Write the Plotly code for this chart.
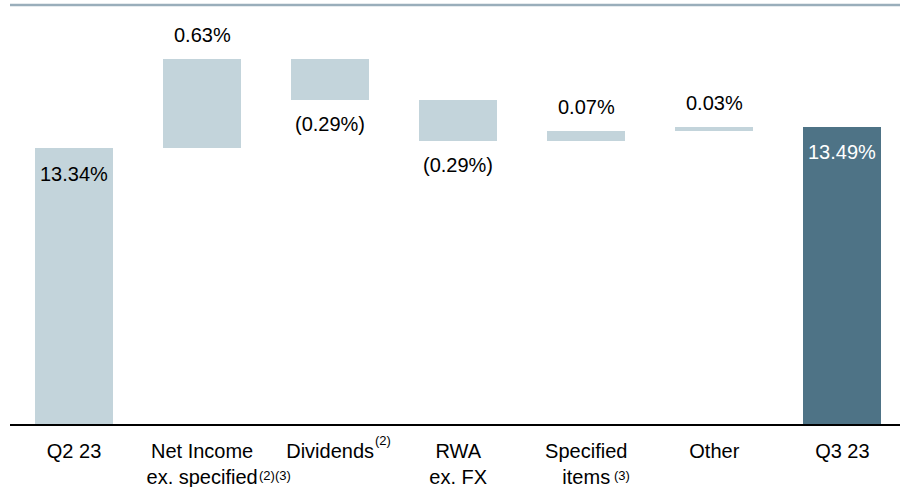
import plotly.graph_objects as go

categories = ["Q2 23", "Net Income ex. specified", "Dividends", "RWA ex. FX",
              "Specified items", "Other", "Q3 23"]
tick_labels = ["Q2 23", "Net Income<br>ex. specified", "Dividends", "RWA<br>ex. FX",
               "Specified<br>items", "Other", "Q3 23"]
values = [13.34, 0.63, -0.29, -0.29, 0.07, 0.03, 13.49]
measures = ["absolute", "relative", "relative", "relative", "relative", "relative", "total"]
footnotes = [None, "(2)(3)", "(2)", None, "(3)", None, None]

LIGHT = "#C3D4DB"
DARK = "#4E7386"
FONT = "Liberation Sans, Arial, sans-serif"

# bar bases from the running total
bases, heights, colors = [], [], []
running = 0.0
for v, m in zip(values, measures):
    if m == "relative":
        bases.append(running)
        heights.append(v)
        running += v
        colors.append(LIGHT)
    else:
        bases.append(0)
        heights.append(v)
        running = v
        colors.append(DARK if m == "total" else LIGHT)

xs = list(range(len(categories)))

fig = go.Figure()
fig.add_trace(go.Bar(
    x=xs, y=heights, base=bases, width=0.61,
    marker=dict(color=colors, line=dict(width=0)),
    hoverinfo="skip", showlegend=False,
))

def fmt(v):
    return f"({abs(v):.2f}%)" if v < 0 else f"{v:.2f}%"

annotations = []
for i, (v, m, b) in enumerate(zip(values, measures, bases)):
    top = b + v
    if m == "absolute":
        annotations.append(dict(x=i, y=top, text=fmt(v), yshift=-26, showarrow=False,
                                font=dict(size=20, color="#000000", family=FONT)))
    elif m == "total":
        annotations.append(dict(x=i, y=top, text=fmt(v), yshift=-25, showarrow=False,
                                font=dict(size=20, color="#FFFFFF", family=FONT)))
    elif v >= 0:
        annotations.append(dict(x=i, y=top, text=fmt(v), yshift=24, showarrow=False,
                                font=dict(size=20, color="#000000", family=FONT)))
    else:
        annotations.append(dict(x=i, y=top, text=fmt(v), yshift=-24, showarrow=False,
                                font=dict(size=20, color="#000000", family=FONT)))

# footnote marks hanging after the category labels
foot_pos = {1: (55, -51), 2: (43, -16), 4: (26, -51)}
for i, fn in enumerate(footnotes):
    if fn:
        dx, dy = foot_pos[i]
        annotations.append(dict(x=i, y=0, xref="x", yref="paper", text=fn,
                                xanchor="left", yanchor="middle", xshift=dx, yshift=dy,
                                showarrow=False,
                                font=dict(size=13, color="#000000", family=FONT)))

ymin = 11.383
ymax = ymin + 419 / 141.0

fig.update_layout(
    width=900, height=487,
    margin=dict(l=10, r=0, t=5, b=63),
    paper_bgcolor="white", plot_bgcolor="white",
    bargap=0,
    xaxis=dict(
        tickmode="array", tickvals=xs, ticktext=tick_labels,
        range=[-0.5, 6.45], showgrid=False, zeroline=False,
        showline=True, linecolor="#000000", linewidth=1.5,
        ticks="", ticklabelstandoff=8,
        tickfont=dict(size=20, color="#000000", family=FONT),
    ),
    yaxis=dict(range=[ymin, ymax], visible=False, showgrid=False, zeroline=False),
    annotations=annotations,
    shapes=[dict(type="line", xref="paper", yref="paper", x0=0, x1=1, y0=1, y1=1,
                 line=dict(color="#9AAEBB", width=2.5))],
)

fig.write_html("out.html", config={"displayModeBar": False},
               post_script="document.body.style.margin='0';")
